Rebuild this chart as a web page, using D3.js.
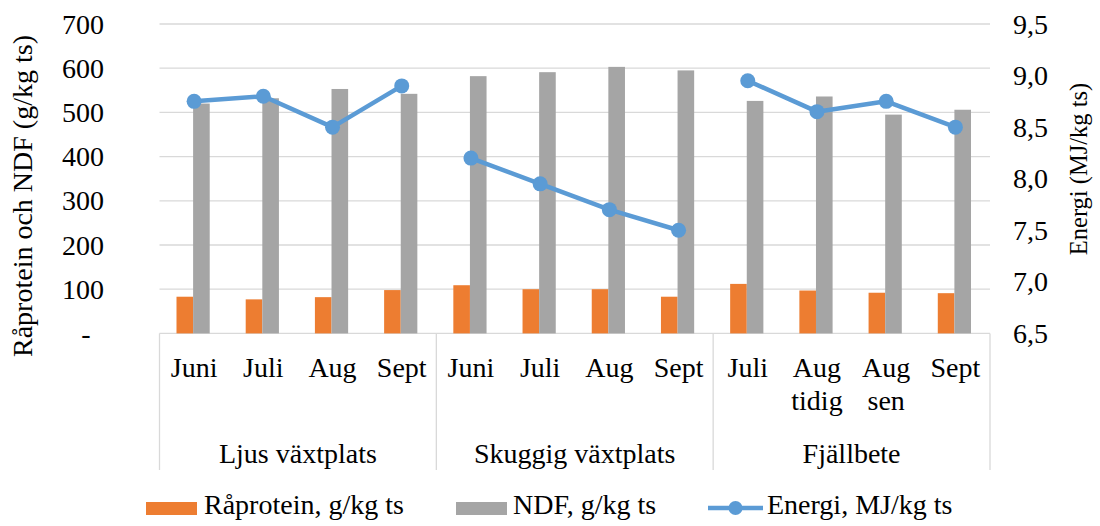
<!DOCTYPE html>
<html>
<head>
<meta charset="utf-8">
<script src="https://cdn.jsdelivr.net/npm/d3@7"></script>
<style>
  html, body { margin: 0; padding: 0; background: #fff; }
  svg { display: block; font-family: "Liberation Serif", "Times New Roman", serif; }
</style>
</head>
<body>
<svg id="chart" width="1100" height="526"></svg>
<script>
// ---- data ----
const months = ["Juni", "Juli", "Aug", "Sept", "Juni", "Juli", "Aug", "Sept", "Juli", "Aug\ntidig", "Aug\nsen", "Sept"];
const groupOf = [0, 0, 0, 0, 1, 1, 1, 1, 2, 2, 2, 2];
const groups = ["Ljus växtplats", "Skuggig växtplats", "Fjällbete"];
const raprotein = [83, 77, 82, 98, 109, 100, 100, 83, 112, 97, 92, 91];
const ndf = [520, 532, 553, 542, 582, 591, 603, 595, 526, 536, 495, 506];
const energi = [8.75, 8.8, 8.5, 8.9, 8.2, 7.95, 7.7, 7.5, 8.95, 8.65, 8.75, 8.5];
const leftTicks = [0, 100, 200, 300, 400, 500, 600, 700];
const rightTicks = [6.5, 7.0, 7.5, 8.0, 8.5, 9.0, 9.5];
const seriesNames = ["Råprotein, g/kg ts", "NDF, g/kg ts", "Energi, MJ/kg ts"];
const leftTitle = "Råprotein och NDF (g/kg ts)";
const rightTitle = "Energi (MJ/kg ts)";

// ---- styles ----
const C_ORANGE = "#ED7D31", C_GRAY = "#A5A5A5", C_BLUE = "#5B9BD5", C_GRID = "#D9D9D9";
const plot = { x0: 159.5, x1: 990, y0: 24, y1: 333.4 };

const svg = d3.select("#chart");

const x = d3.scaleBand().domain(d3.range(months.length)).range([plot.x0, plot.x1]).padding(0);
const bw = x.bandwidth();
const inner = d3.scaleBand().domain([0, 1]).range([0, bw * 0.48]).padding(0);
const yL = d3.scaleLinear().domain([0, 700]).range([plot.y1, plot.y0]);
const yR = d3.scaleLinear().domain([6.5, 9.5]).range([plot.y1, plot.y0]);

// gridlines
svg.append("g").selectAll("line").data(leftTicks).join("line")
  .attr("x1", plot.x0).attr("x2", plot.x1)
  .attr("y1", d => yL(d)).attr("y2", d => yL(d))
  .attr("stroke", C_GRID).attr("stroke-width", 1.3);

// category axis separators
const sepIdx = [0, 4, 8, 12];
svg.append("g").selectAll("line").data(sepIdx).join("line")
  .attr("x1", d => d < 12 ? x(d) : plot.x1).attr("x2", d => d < 12 ? x(d) : plot.x1)
  .attr("y1", plot.y1).attr("y2", 470)
  .attr("stroke", C_GRID).attr("stroke-width", 1.3);

// bars
const barStart = i => x(i) + bw / 2 - bw * 0.24 - 1;
svg.append("g").selectAll("rect").data(raprotein).join("rect")
  .attr("x", (d, i) => barStart(i) + inner(0))
  .attr("width", inner.bandwidth())
  .attr("y", d => yL(d)).attr("height", d => yL(0) - yL(d))
  .attr("fill", C_ORANGE);
svg.append("g").selectAll("rect").data(ndf).join("rect")
  .attr("x", (d, i) => barStart(i) + inner(1))
  .attr("width", inner.bandwidth())
  .attr("y", d => yL(d)).attr("height", d => yL(0) - yL(d))
  .attr("fill", C_GRAY);

// energy line (one segment per group)
const line = d3.line().x(d => x(d.i) + bw / 2).y(d => yR(d.v));
const pts = energi.map((v, i) => ({ v, i, g: groupOf[i] }));
const segs = d3.groups(pts, d => d.g).map(g => g[1]);
svg.append("g").selectAll("path").data(segs).join("path")
  .attr("d", line).attr("fill", "none")
  .attr("stroke", C_BLUE).attr("stroke-width", 4.5).attr("stroke-linejoin", "round");
svg.append("g").selectAll("circle").data(pts).join("circle")
  .attr("cx", d => x(d.i) + bw / 2).attr("cy", d => yR(d.v)).attr("r", 7.5)
  .attr("fill", C_BLUE);

// left tick labels
svg.append("g").selectAll("text").data(leftTicks).join("text")
  .attr("x", d => d === 0 ? 86 : 104).attr("y", d => yL(d))
  .attr("text-anchor", d => d === 0 ? "middle" : "end")
  .attr("dominant-baseline", "central")
  .attr("font-size", 28).attr("fill", "#000")
  .text(d => d === 0 ? "-" : d3.format("d")(d));

// right tick labels
const fmtR = d => d3.format(".1f")(d).replace(".", ",");
svg.append("g").selectAll("text").data(rightTicks).join("text")
  .attr("x", 1013).attr("y", d => yR(d))
  .attr("text-anchor", "start").attr("dominant-baseline", "central")
  .attr("font-size", 28).attr("fill", "#000")
  .text(fmtR);

// month labels
const mt = svg.append("g").selectAll("text").data(months).join("text")
  .attr("x", (d, i) => x(i) + bw / 2).attr("y", 376.5)
  .attr("text-anchor", "middle").attr("font-size", 28).attr("fill", "#000");
mt.each(function(d) {
  const parts = d.split("\n");
  d3.select(this).selectAll("tspan").data(parts).join("tspan")
    .attr("x", d3.select(this).attr("x"))
    .attr("dy", (p, k) => k === 0 ? 0 : 33.5)
    .text(p => p);
});

// group labels
svg.append("g").selectAll("text").data(groups).join("text")
  .attr("x", (d, gi) => x(gi * 4) + bw * 2).attr("y", 462.5)
  .attr("text-anchor", "middle").attr("font-size", 28).attr("fill", "#000")
  .text(d => d);

// axis titles
svg.append("text").attr("transform", "translate(32,196) rotate(-90)")
  .attr("text-anchor", "middle").attr("font-size", 28).attr("fill", "#000")
  .text(leftTitle);
svg.append("text").attr("transform", "translate(1087,169) rotate(-90)")
  .attr("text-anchor", "middle").attr("font-size", 24.5).attr("fill", "#000")
  .text(rightTitle);

// legend
const lg = svg.append("g");
lg.append("rect").attr("x", 146).attr("y", 502).attr("width", 51).attr("height", 13).attr("fill", C_ORANGE);
lg.append("text").attr("x", 204).attr("y", 514).attr("font-size", 28).text(seriesNames[0]);
lg.append("rect").attr("x", 456).attr("y", 502).attr("width", 51).attr("height", 13).attr("fill", C_GRAY);
lg.append("text").attr("x", 513).attr("y", 514).attr("font-size", 28).text(seriesNames[1]);
lg.append("line").attr("x1", 708).attr("x2", 763).attr("y1", 508).attr("y2", 508)
  .attr("stroke", C_BLUE).attr("stroke-width", 4.5);
lg.append("circle").attr("cx", 735.5).attr("cy", 508).attr("r", 7).attr("fill", C_BLUE);
lg.append("text").attr("x", 767).attr("y", 514).attr("font-size", 28).text(seriesNames[2]);
</script>
</body>
</html>
